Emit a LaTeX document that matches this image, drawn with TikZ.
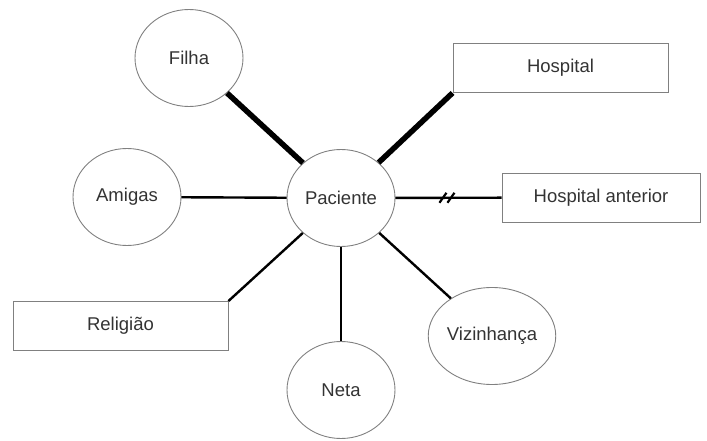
\documentclass[tikz,border=0pt]{standalone}
\usepackage{fontspec}
\setmainfont{Liberation Sans}
\usetikzlibrary{shapes.geometric}
\begin{document}
\begin{tikzpicture}[x=1pt,y=-1pt,
  every node/.style={font=\fontsize{18.5}{22}\selectfont, text=black!80},
  circ/.style={ellipse, draw=black!50, line width=0.9pt, minimum width=108pt, minimum height=97pt, inner sep=0pt},
  rbox/.style={rectangle, draw=black!50, line width=0.9pt, minimum height=49pt, inner sep=0pt},
  thinlink/.style={draw=black, line width=2.4pt},
  thicklink/.style={draw=black, line width=5.5pt},
  slash/.style={draw=black, line width=2.2pt}]
\useasboundingbox (0,0) rectangle (707,441);
\node[circ] (pac) at (341,198) {Paciente};
\node[circ] (filha) at (189,58) {Filha};
\node[circ] (amigas) at (127,197) {Amigas};
\node[circ] (neta) at (341,390) {Neta};
\node[circ] (viz) at (492,336) {Vizinhança};
\node[rbox, minimum width=215pt] (hosp) at (560.5,68) {Hospital};
\node[rbox, minimum width=198pt] (hant) at (601,197.5) {Hospital anterior};
\node[rbox, minimum width=215pt] (rel) at (120.5,326) {Religião};
\draw[thicklink] (pac) -- (filha);
\draw[thicklink] (pac) -- (hosp.south west);
\draw[thinlink] (pac) -- (amigas);
\draw[thinlink] (pac) -- (rel.north east);
\draw[thinlink] (pac) -- (neta);
\draw[thinlink] (pac) -- (viz);
\draw[thinlink] (pac) -- coordinate[pos=0.49] (brk) (hant);
\draw[slash] ([shift={(-8,5)}]brk) -- ([shift={(-1,-5)}]brk);
\draw[slash] ([shift={(0,5)}]brk) -- ([shift={(7,-5)}]brk);
\end{tikzpicture}
\end{document}
